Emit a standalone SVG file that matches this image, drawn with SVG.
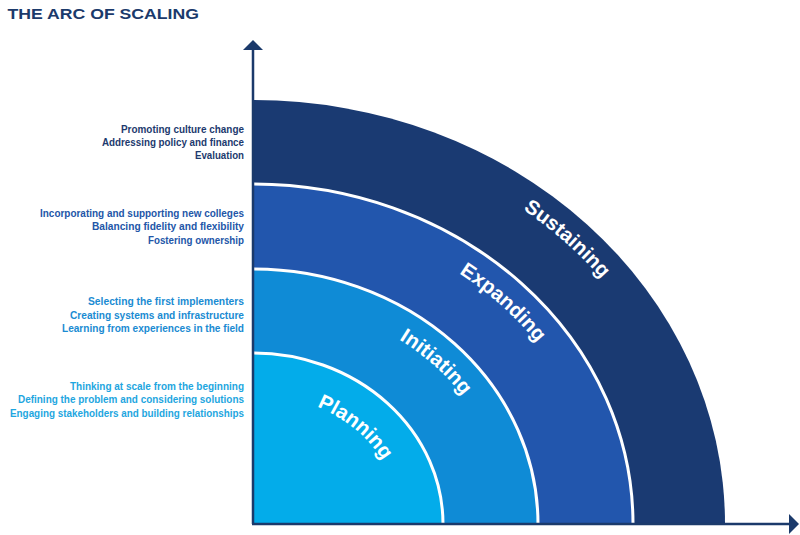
<svg xmlns="http://www.w3.org/2000/svg" width="800" height="535" viewBox="0 0 800 535">
<style>
.title{font-family:"Liberation Sans",Arial,sans-serif;font-weight:bold;font-size:15.5px;fill:#1b3a6b}
.list{font-family:"Liberation Sans",Arial,sans-serif;font-weight:bold;font-size:10.5px;text-anchor:end}
.band{font-family:"Liberation Sans",Arial,sans-serif;font-weight:bold;font-size:20.5px;fill:#ffffff}
.sep{fill:none;stroke:#ffffff;stroke-width:3}
.axis{fill:none;stroke:#1b3a6b;stroke-width:2.5}
.head{fill:#1b3a6b}
</style>
<defs>
<path id="pS" d="M253,128 A444,396 0 0 1 697,524"/>
<path id="pE" d="M253,214 A350,310 0 0 1 603,524"/>
<path id="pI" d="M253,299 A255,225 0 0 1 508,524"/>
<path id="pP" d="M253,394 A149,130 0 0 1 402,524"/>
</defs>
<rect width="800" height="535" fill="#ffffff"/>
<text class="title" x="7.5" y="19.3" textLength="191.5" lengthAdjust="spacingAndGlyphs">THE ARC OF SCALING</text>

<g id="sustaining">
<path d="M253,524 L253,100 A472,424 0 0 1 725,524 Z" fill="#1a3a72"/>
<text class="band"><textPath href="#pS" startOffset="51.3%" text-anchor="middle">Sustaining</textPath></text>
<g class="list" fill="#1d3a6e">
<text x="244" y="132.7" textLength="123" lengthAdjust="spacingAndGlyphs">Promoting culture change</text>
<text x="244" y="146" textLength="142" lengthAdjust="spacingAndGlyphs">Addressing policy and finance</text>
<text x="244" y="159.3" textLength="49" lengthAdjust="spacingAndGlyphs">Evaluation</text>
</g>
</g>

<g id="expanding">
<path d="M253,524 L253,184 A380,340 0 0 1 633,524 Z" fill="#2256ad"/>
<path class="sep" d="M253,184 A380,340 0 0 1 633,524"/>
<text class="band"><textPath href="#pE" startOffset="52%" text-anchor="middle">Expanding</textPath></text>
<g class="list" fill="#2356a8">
<text x="244" y="216.5" textLength="204" lengthAdjust="spacingAndGlyphs">Incorporating and supporting new colleges</text>
<text x="244" y="230" textLength="152" lengthAdjust="spacingAndGlyphs">Balancing fidelity and flexibility</text>
<text x="244" y="243.5" textLength="96" lengthAdjust="spacingAndGlyphs">Fostering ownership</text>
</g>
</g>

<g id="initiating">
<path d="M253,524 L253,269 A285,255 0 0 1 538,524 Z" fill="#0f8bd6"/>
<path class="sep" d="M253,269 A285,255 0 0 1 538,524"/>
<text class="band"><textPath href="#pI" startOffset="52%" text-anchor="middle">Initiating</textPath></text>
<g class="list" fill="#1a8bd2">
<text x="244" y="305.3" textLength="156" lengthAdjust="spacingAndGlyphs">Selecting the first implementers</text>
<text x="244" y="318.7" textLength="174" lengthAdjust="spacingAndGlyphs">Creating systems and infrastructure</text>
<text x="244" y="332" textLength="182" lengthAdjust="spacingAndGlyphs">Learning from experiences in the field</text>
</g>
</g>

<g id="planning">
<path d="M253,524 L253,353 A190,171 0 0 1 443,524 Z" fill="#03acea"/>
<path class="sep" d="M253,353 A190,171 0 0 1 443,524"/>
<text class="band"><textPath href="#pP" startOffset="49.6%" text-anchor="middle">Planning</textPath></text>
<g class="list" fill="#1ea6e0">
<text x="244" y="390" textLength="174" lengthAdjust="spacingAndGlyphs">Thinking at scale from the beginning</text>
<text x="244" y="403.3" textLength="226" lengthAdjust="spacingAndGlyphs">Defining the problem and considering solutions</text>
<text x="244" y="416.7" textLength="234" lengthAdjust="spacingAndGlyphs">Engaging stakeholders and building relationships</text>
</g>
</g>

<g id="connectors">
<path class="axis" d="M253,524 L253,48"/>
<polygon class="head" points="253,40 263,50 243,50"/>
<path class="axis" d="M252,524 L790,524"/>
<polygon class="head" points="799,524 789,514 789,534"/>
</g>
</svg>
